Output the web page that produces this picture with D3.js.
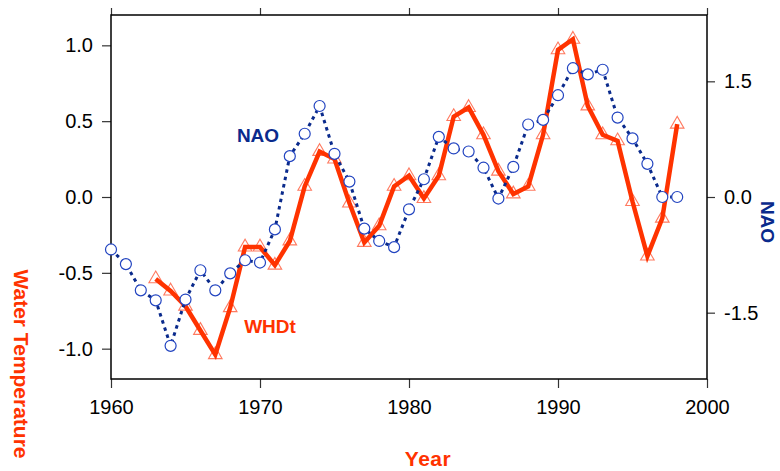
<!DOCTYPE html>
<html>
<head>
<meta charset="utf-8">
<script src="https://cdn.jsdelivr.net/npm/d3@7"></script>
<style>
  body { margin: 0; background: #fff; }
</style>
</head>
<body>
<div id="chart"></div>
<script>
// Data
const naoYears = d3.range(1960, 1999);
const naoValues = [-0.68, -0.87, -1.21, -1.34, -1.93, -1.33, -0.95, -1.21, -0.99, -0.82,
  -0.85, -0.42, 0.53, 0.82, 1.18, 0.56, 0.20, -0.41, -0.57, -0.65,
  -0.16, 0.23, 0.78, 0.63, 0.59, 0.38, -0.02, 0.39, 0.94, 1.00,
  1.32, 1.67, 1.59, 1.65, 1.03, 0.76, 0.43, 0.00, 0.00];

const whdYears = d3.range(1963, 1999);
const whdValues = [-0.54, -0.62, -0.72, -0.88, -1.04, -0.73, -0.33, -0.33, -0.45, -0.29,
  0.07, 0.30, 0.25, -0.04, -0.30, -0.19, 0.07, 0.14, -0.01, 0.14,
  0.53, 0.59, 0.41, 0.17, 0.02, 0.07, 0.41, 0.97, 1.04, 0.60,
  0.41, 0.37, -0.03, -0.39, -0.14, 0.48];

const yearTicks = [1960, 1970, 1980, 1990, 2000];
const tempTicks = [-1.0, -0.5, 0.0, 0.5, 1.0];
const naoTicks = [-1.5, 0.0, 1.5];

const width = 780, height = 471;
const margin = { top: 15, right: 73, bottom: 92, left: 111 };
const font = "'Liberation Sans', Arial, sans-serif";
const red = "#ff3300";
const blue = "#0a2a8c";

const svg = d3.select("#chart").append("svg")
  .attr("width", width)
  .attr("height", height);

const x = d3.scaleLinear().domain([1960, 2000]).range([margin.left, width - margin.right]);
const yL = d3.scaleLinear().domain([-1.2, 1.2]).range([height - margin.bottom, margin.top]);
const yR = d3.scaleLinear().domain([-2.36, 2.36]).range([height - margin.bottom, margin.top]);

// Axes
function styleAxis(g) {
  g.select(".domain").remove();
  g.selectAll("text").attr("font-family", font).attr("font-size", 20).attr("fill", "#000");
  g.selectAll("line").attr("stroke", "#333").attr("stroke-width", 1.2);
}

svg.append("g")
  .attr("transform", `translate(0,${height - margin.bottom})`)
  .call(d3.axisBottom(x).tickValues(yearTicks).tickFormat(d3.format("d")).tickSize(9).tickPadding(12))
  .call(styleAxis);

svg.append("g")
  .attr("transform", `translate(0,${margin.top})`)
  .call(d3.axisTop(x).tickValues(yearTicks).tickFormat("").tickSize(7))
  .call(styleAxis);

svg.append("g")
  .attr("transform", `translate(${margin.left},0)`)
  .call(d3.axisLeft(yL).tickValues(tempTicks).tickFormat(d => d.toFixed(1)).tickSize(9).tickPadding(9))
  .call(styleAxis);

svg.append("g")
  .attr("transform", `translate(${width - margin.right},0)`)
  .call(d3.axisRight(yR).tickValues(naoTicks).tickFormat(d => d.toFixed(1)).tickSize(8).tickPadding(9))
  .call(styleAxis);

// Plot frame
svg.append("rect")
  .attr("x", margin.left)
  .attr("y", margin.top)
  .attr("width", width - margin.left - margin.right)
  .attr("height", height - margin.top - margin.bottom)
  .attr("fill", "none")
  .attr("stroke", "#000")
  .attr("stroke-width", 1.5);

// WHDt series
const whd = whdYears.map((yr, i) => ({ yr, v: whdValues[i] }));
svg.selectAll(".tri")
  .data(whd)
  .enter()
  .append("path")
  .attr("class", "tri")
  .attr("d", d3.symbol().type(d3.symbolTriangle).size(80))
  .attr("transform", d => `translate(${x(d.yr)},${yL(d.v)})`)
  .attr("fill", "none")
  .attr("stroke", "#ff7a60")
  .attr("stroke-width", 1.1);

svg.append("path")
  .datum(whd)
  .attr("fill", "none")
  .attr("stroke", red)
  .attr("stroke-width", 4.5)
  .attr("d", d3.line().x(d => x(d.yr)).y(d => yL(d.v)));

// NAO series
const nao = naoYears.map((yr, i) => ({ yr, v: naoValues[i] }));
svg.append("path")
  .datum(nao)
  .attr("fill", "none")
  .attr("stroke", blue)
  .attr("stroke-width", 3)
  .attr("stroke-dasharray", "3.5,4")
  .attr("d", d3.line().x(d => x(d.yr)).y(d => yR(d.v)));

svg.selectAll(".dot")
  .data(nao)
  .enter()
  .append("circle")
  .attr("class", "dot")
  .attr("cx", d => x(d.yr))
  .attr("cy", d => yR(d.v))
  .attr("r", 5.5)
  .attr("fill", "#fff")
  .attr("stroke", "#2244c0")
  .attr("stroke-width", 1.2);

// Series labels
svg.append("text")
  .attr("x", 258).attr("y", 142)
  .attr("text-anchor", "middle")
  .attr("font-family", font).attr("font-size", 19).attr("font-weight", "bold")
  .attr("fill", blue)
  .text("NAO");

svg.append("text")
  .attr("x", 270).attr("y", 333)
  .attr("text-anchor", "middle")
  .attr("font-family", font).attr("font-size", 19).attr("font-weight", "bold")
  .attr("fill", red)
  .text("WHDt");

// Axis titles
svg.append("text")
  .attr("transform", "translate(14,364) rotate(90)")
  .attr("text-anchor", "middle")
  .attr("font-family", font).attr("font-size", 21).attr("font-weight", "bold")
  .attr("fill", red)
  .text("Water Temperature");

svg.append("text")
  .attr("x", 428).attr("y", 466)
  .attr("text-anchor", "middle")
  .attr("font-family", font).attr("font-size", 21).attr("font-weight", "bold")
  .attr("letter-spacing", 0.5)
  .attr("fill", red)
  .text("Year");

svg.append("text")
  .attr("transform", "translate(761,222) rotate(90)")
  .attr("text-anchor", "middle")
  .attr("font-family", font).attr("font-size", 19).attr("font-weight", "bold")
  .attr("fill", blue)
  .text("NAO");
</script>
</body>
</html>
